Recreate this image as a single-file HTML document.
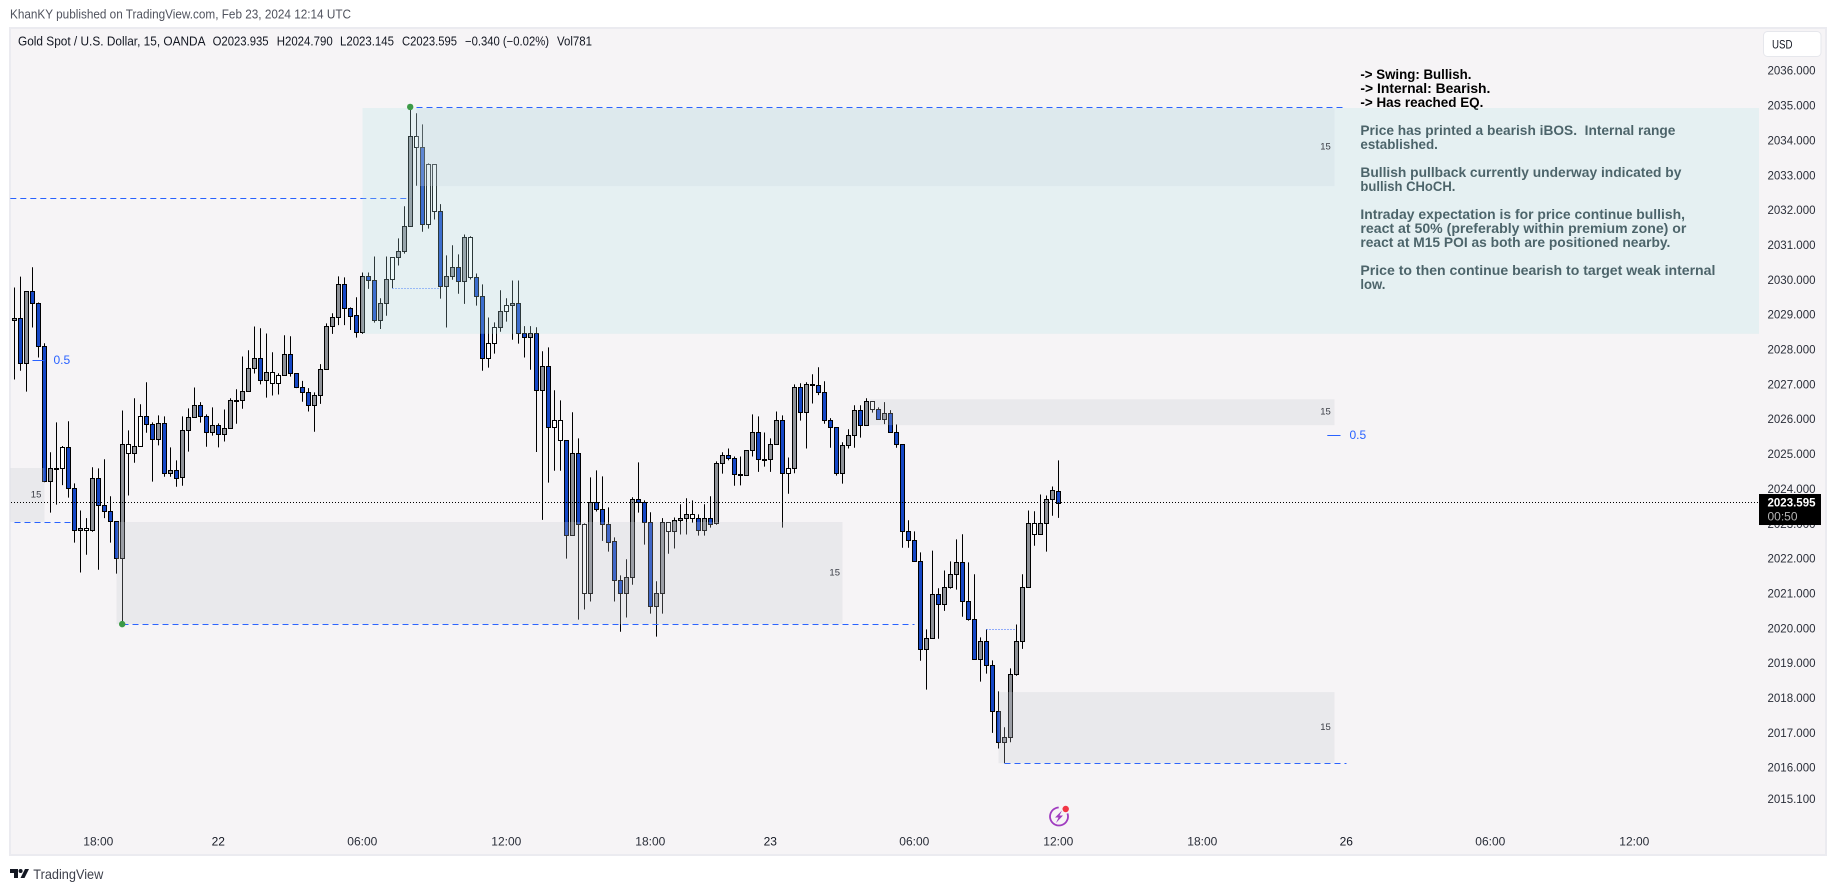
<!DOCTYPE html>
<html lang="en">
<head>
<meta charset="utf-8">
<title>Gold Spot / U.S. Dollar 15m chart</title>
<style>
html,body{margin:0;padding:0;background:#fff;width:1835px;height:891px;overflow:hidden}
svg{display:block}
text{font-family:"Liberation Sans",sans-serif;dominant-baseline:central;white-space:pre}
.note{font-size:14px;font-weight:700;fill:#000}
.note.soft{fill:#2a3a40}
.axis{font-size:12px;fill:#2a2e39}
.legend{font-size:12.5px;fill:#131722}
.zn{font-size:9.5px;fill:#3a3d45}
</style>
</head>
<body>
<svg id="chart" xmlns="http://www.w3.org/2000/svg" width="1835" height="891" viewBox="0 0 1835 891">
  <rect x="0" y="0" width="1835" height="891" fill="#ffffff"/>
  <text x="10" y="14.7" font-size="12.5" fill="#50535e" textLength="341" lengthAdjust="spacingAndGlyphs">KhanKY published on TradingView.com, Feb 23, 2024 12:14 UTC</text>
  <rect x="10" y="28" width="1816" height="827" fill="#f6f4f6" stroke="#ebebf0" stroke-width="2"/>

  <g>
    <text class="note" x="1360.4" y="74" textLength="111" lengthAdjust="spacingAndGlyphs">-&gt; Swing: Bullish.</text>
    <text class="note" x="1360.4" y="88" textLength="130" lengthAdjust="spacingAndGlyphs">-&gt; Internal: Bearish.</text>
    <text class="note" x="1360.4" y="102" textLength="123" lengthAdjust="spacingAndGlyphs">-&gt; Has reached EQ.</text>
    <text class="note soft" x="1360.4" y="130" textLength="315" lengthAdjust="spacingAndGlyphs">Price has printed a bearish iBOS.  Internal range</text>
    <text class="note soft" x="1360.4" y="144" textLength="77.5" lengthAdjust="spacingAndGlyphs">established.</text>
    <text class="note soft" x="1360.4" y="172" textLength="321" lengthAdjust="spacingAndGlyphs">Bullish pullback currently underway indicated by</text>
    <text class="note soft" x="1360.4" y="186" textLength="95" lengthAdjust="spacingAndGlyphs">bullish CHoCH.</text>
    <text class="note soft" x="1360.4" y="214" textLength="324.6" lengthAdjust="spacingAndGlyphs">Intraday expectation is for price continue bullish,</text>
    <text class="note soft" x="1360.4" y="228" textLength="326" lengthAdjust="spacingAndGlyphs">react at 50% (preferably within premium zone) or</text>
    <text class="note soft" x="1360.4" y="242" textLength="310" lengthAdjust="spacingAndGlyphs">react at M15 POI as both are positioned nearby.</text>
    <text class="note soft" x="1360.4" y="270" textLength="355" lengthAdjust="spacingAndGlyphs">Price to then continue bearish to target weak internal</text>
    <text class="note soft" x="1360.4" y="284" textLength="25" lengthAdjust="spacingAndGlyphs">low.</text>
  </g>

  <g id="candles"></g>
  <g id="levels"></g>
  <g id="zones"></g>
  <g id="priceline"></g>
  <g id="markers"></g>
  <g id="yaxis"></g>
  <g id="xaxis"></g>

  <g>
    <text class="legend" x="18" y="41.7" textLength="187.5" lengthAdjust="spacingAndGlyphs">Gold Spot / U.S. Dollar, 15, OANDA</text>
    <text class="legend" x="212.6" y="41.7" textLength="56" lengthAdjust="spacingAndGlyphs">O2023.935</text>
    <text class="legend" x="276.7" y="41.7" textLength="56" lengthAdjust="spacingAndGlyphs">H2024.790</text>
    <text class="legend" x="340" y="41.7" textLength="54" lengthAdjust="spacingAndGlyphs">L2023.145</text>
    <text class="legend" x="402" y="41.7" textLength="55" lengthAdjust="spacingAndGlyphs">C2023.595</text>
    <text class="legend" x="465" y="41.7" textLength="84" lengthAdjust="spacingAndGlyphs">−0.340 (−0.02%)</text>
    <text class="legend" x="557" y="41.7" textLength="35" lengthAdjust="spacingAndGlyphs">Vol781</text>
  </g>

  <g>
    <rect x="1763.5" y="31.5" width="57.5" height="25" rx="4" fill="#ffffff" stroke="#e6e7ec" stroke-width="1"/>
    <text x="1772" y="44.5" font-size="12" fill="#131722" textLength="20.5" lengthAdjust="spacingAndGlyphs">USD</text>
  </g>

  <g>
    <circle cx="1059" cy="816.5" r="9" fill="none" stroke="#a03cc0" stroke-width="1.8" stroke-dasharray="45 12" transform="rotate(-20 1059 816.5)"/>
    <polygon points="1062,810.5 1055,817.5 1058.5,817.5 1056,823 1063,815.5 1059.5,815.5" fill="#a03cc0"/>
    <circle cx="1065.7" cy="809" r="3.2" fill="#f23645"/>
  </g>

  <g>
    <polygon points="10,869 18,869 18,878 14,878 14,873 10,873" fill="#131722"/>
    <circle cx="20.6" cy="871" r="2" fill="#131722"/>
    <polygon points="25,869 29,869 24.5,878 20.5,878" fill="#131722"/>
    <text x="33.3" y="874" font-size="14" fill="#3c3f4a" textLength="70" lengthAdjust="spacingAndGlyphs">TradingView</text>
  </g>
</svg>
<script>
const highs = [
2029.78,2030.09,2029.67,2030.36,2029.35,2028.18,2025.05,2025.91,2025.23,2025.94,
2024.16,2023.38,2023.16,2024.62,2024.59,2024.85,2023.79,2023.07,2026.25,2025.68,
2026.60,2026.43,2027.06,2025.91,2026.11,2026.08,2025.19,2024.82,2026.08,2026.31,
2026.91,2026.49,2026.14,2026.34,2025.88,2026.28,2026.60,2026.86,2027.80,2027.98,
2028.66,2028.61,2028.46,2027.92,2027.32,2028.41,2028.38,2027.32,2027.10,2026.89,
2026.77,2027.58,2028.75,2029.04,2030.10,2030.07,2029.21,2029.50,2030.21,2030.21,
2030.67,2029.47,2030.67,2030.65,2031.19,2032.11,2034.95,2034.78,2034.46,2033.34,
2033.31,2032.17,2030.70,2030.99,2030.73,2031.30,2031.25,2030.18,2029.87,2028.92,
2028.78,2029.70,2029.47,2029.98,2029.98,2028.67,2028.67,2028.64,2027.95,2028.06,
2026.83,2026.54,2025.39,2026.20,2025.45,2023.01,2024.33,2024.53,2024.36,2023.47,
2022.61,2021.52,2021.98,2023.76,2024.76,2023.67,2023.33,2021.35,2023.16,2023.04,
2023.18,2023.56,2023.73,2023.67,2023.27,2023.56,2023.79,2024.79,2025.05,2025.16,
2024.93,2024.93,2025.11,2026.14,2026.08,2025.62,2025.45,2026.22,2026.11,2024.90,
2027.00,2027.03,2027.06,2027.29,2027.49,2027.09,2026.03,2025.77,2025.34,2025.71,
2026.40,2026.40,2026.60,2026.52,2026.34,2026.49,2026.26,2025.85,2025.28,2023.10,
2022.78,2022.18,2019.97,2022.23,2021.15,2021.66,2021.92,2022.55,2022.70,2021.89,
2021.55,2019.74,2019.97,2019.08,2018.19,2017.16,2018.85,2020.11,2021.55,2023.38,
2023.36,2023.84,2023.81,2024.07,2024.82];
const lows = [
2027.14,2027.39,2026.79,2028.63,2027.77,2024.19,2023.32,2023.55,2024.11,2023.75,
2022.46,2021.60,2022.11,2022.77,2021.68,2023.16,2022.46,2021.57,2020.12,2023.81,
2024.75,2025.22,2025.61,2024.21,2025.25,2024.35,2024.35,2024.06,2024.09,2025.07,
2026.05,2025.90,2025.21,2025.53,2025.19,2025.36,2025.74,2025.87,2026.30,2026.80,
2027.31,2027.00,2026.62,2026.68,2026.71,2027.26,2027.22,2026.89,2026.50,2026.22,
2025.64,2026.44,2027.43,2028.45,2028.70,2028.70,2028.56,2028.34,2028.45,2029.74,
2028.77,2028.59,2028.97,2029.76,2030.41,2030.75,2031.53,2032.70,2031.38,2031.47,
2031.73,2029.46,2028.63,2030.00,2029.60,2029.31,2030.01,2029.26,2027.39,2027.48,
2027.88,2028.51,2028.80,2028.28,2028.17,2027.77,2027.42,2025.06,2023.11,2024.18,
2024.52,2024.52,2022.00,2022.67,2020.25,2020.54,2020.77,2023.35,2022.51,2022.20,
2020.77,2019.90,2020.31,2021.25,2023.32,2022.40,2020.42,2019.76,2020.42,2022.14,
2022.29,2022.69,2022.69,2023.03,2022.66,2022.66,2022.89,2022.97,2024.44,2024.82,
2024.09,2024.10,2024.38,2024.93,2024.49,2024.64,2024.49,2025.28,2022.89,2023.86,
2024.45,2025.96,2025.16,2026.45,2026.69,2025.87,2025.18,2024.38,2024.15,2025.16,
2025.18,2025.47,2025.82,2026.19,2026.00,2025.86,2025.62,2025.18,2022.31,2022.31,
2021.91,2019.07,2018.24,2019.71,2019.70,2020.50,2021.14,2021.11,2020.33,2020.22,
2019.11,2018.47,2018.70,2017.00,2016.55,2016.13,2016.73,2018.64,2019.41,2021.18,
2022.37,2022.70,2022.20,2023.23,2023.17];
const opens = [
2028.84,2028.90,2027.60,2029.67,2029.32,2028.09,2024.22,2024.58,2024.59,2025.19,
2024.02,2022.81,2022.81,2022.81,2024.31,2023.53,2023.36,2023.07,2022.01,2025.02,
2025.02,2025.22,2026.08,2025.85,2025.42,2025.88,2024.45,2024.53,2024.33,2025.68,
2026.05,2026.40,2026.08,2025.62,2025.82,2025.57,2025.74,2026.53,2026.54,2026.80,
2027.46,2027.75,2027.12,2027.03,2027.03,2027.26,2027.86,2027.32,2026.92,2026.77,
2026.40,2026.69,2027.43,2028.66,2028.92,2029.87,2029.18,2028.98,2028.49,2030.10,
2029.98,2028.84,2029.32,2030.01,2030.65,2030.82,2031.53,2033.80,2033.80,2031.59,
2031.96,2031.96,2029.81,2030.10,2030.36,2029.96,2030.07,2030.07,2029.53,2027.77,
2028.18,2028.64,2029.10,2029.27,2029.32,2028.47,2028.35,2028.47,2026.83,2027.52,
2025.77,2025.39,2025.39,2022.67,2025.02,2021.00,2021.00,2023.61,2023.42,2022.98,
2022.50,2021.38,2021.02,2021.46,2023.70,2023.61,2023.04,2020.65,2021.00,2022.78,
2022.78,2023.10,2023.16,2023.16,2023.16,2022.81,2023.16,2023.01,2024.73,2024.96,
2024.88,2024.39,2024.39,2025.11,2025.62,2024.84,2024.85,2025.28,2025.97,2024.47,
2024.59,2026.91,2026.22,2027.00,2026.97,2026.77,2025.97,2025.77,2024.45,2025.25,
2025.54,2026.26,2025.82,2026.28,2026.28,2026.00,2026.17,2025.62,2025.28,2022.78,
2022.52,2021.92,2019.40,2019.71,2020.98,2020.69,2021.18,2021.55,2021.89,2020.77,
2020.26,2019.11,2019.63,2018.94,2017.62,2016.73,2016.87,2018.68,2019.63,2021.18,
2022.70,2022.70,2023.01,2023.70,2023.94];
const closes = [
2028.90,2027.60,2029.67,2029.32,2028.09,2024.22,2024.59,2024.59,2025.19,2024.02,
2022.81,2022.87,2022.87,2024.31,2023.53,2023.36,2023.07,2022.01,2025.28,2025.28,
2025.22,2026.08,2025.85,2025.42,2025.88,2024.45,2024.53,2024.32,2025.68,2026.05,
2026.40,2026.08,2025.62,2025.82,2025.57,2025.74,2026.54,2026.54,2026.80,2027.46,
2027.75,2027.12,2027.35,2027.35,2027.26,2027.86,2027.32,2026.92,2026.77,2026.40,
2026.69,2027.43,2028.67,2028.92,2029.87,2029.18,2028.97,2028.49,2030.10,2029.98,
2028.84,2029.32,2030.01,2030.65,2030.82,2031.53,2034.12,2034.12,2031.59,2033.31,
2033.31,2029.81,2030.10,2030.36,2029.96,2031.22,2031.22,2029.53,2027.77,2028.18,
2028.64,2029.10,2029.27,2029.32,2028.47,2028.35,2028.47,2026.83,2027.52,2025.77,
2025.97,2025.97,2022.67,2025.02,2022.98,2022.98,2023.61,2023.41,2022.98,2022.49,
2021.38,2021.02,2021.46,2023.70,2023.61,2023.04,2020.65,2021.00,2023.04,2023.04,
2023.10,2023.16,2023.27,2023.27,2022.81,2023.16,2023.00,2024.73,2024.96,2024.88,
2024.42,2024.42,2025.11,2025.62,2024.85,2024.85,2025.28,2025.97,2024.47,2024.59,
2026.92,2026.22,2027.00,2026.97,2026.77,2025.97,2025.77,2024.45,2025.25,2025.54,
2026.26,2025.82,2026.52,2026.52,2026.00,2026.17,2025.62,2025.28,2022.78,2022.52,
2021.92,2019.40,2019.71,2020.98,2020.69,2021.18,2021.55,2021.89,2020.77,2020.26,
2019.11,2019.63,2018.94,2017.62,2016.73,2016.87,2018.68,2019.63,2021.18,2023.01,
2023.01,2023.01,2023.70,2023.96,2023.60];
const insideBars = [8,12,19,21,43,44,63,67,69,70,76,79,80,82,90,91,95,109,113,129,143,170];

const priceTickValues = [2036,2035,2034,2033,2032,2031,2030,2029,2028,2027,2026,2025,2024,2023,2022,2021,2020,2019,2018,2017,2016,2015.1];
const timeTickBars = [14,34,58,82,106,126,150,174,198,222,246,270];
const timeTickLabels = ["18:00","22","06:00","12:00","18:00","23","06:00","12:00","18:00","26","06:00","12:00"];
const lastPrice = 2023.595;
const countdownText = "00:50";

const zoneStartBars = [58,67,17,-0.7,142.5,164];
const zoneEndBars = [290.75,220,138,5,220,220];
const zoneTopPrices = [2034.93,2034.93,2023.05,2024.60,2026.57,2018.17];
const zoneBottomPrices = [2028.45,2032.69,2020.12,2023.05,2025.83,2016.13];
const zoneLabelBars = [null,218.5,136.7,3.6,218.5,218.5];

const dashedStartBars = [67,-0.7,0,18,165];
const dashedEndBars = [222,66,10,150,222];
const dashedPrices = [2034.95,2032.34,2023.04,2020.12,2016.13];
const dottedStartBars = [63,162];
const dottedEndBars = [71,167];
const dottedPrices = [2029.76,2019.97];
const midStartBars = [3,218.8];
const midEndBars = [5,221];
const midPrices = [2027.70,2025.55];
const swingBars = [66,18];
const swingPrices = [2034.96,2020.12];

function xAt(i){ return 14.5 + 6 * i; }
function yAt(p){ return 70.7 + (2036 - p) * 34.85; }
function snap(v){ return Math.round(v) + 0.5; }
const NS = "http://www.w3.org/2000/svg";
function mk(tag, parent){ const e = document.createElementNS(NS, tag); parent.appendChild(e); return e; }

const gCandles = document.getElementById("candles");
for (let i = 0; i < opens.length; i++) {
  const x = xAt(i);
  const g = mk("g", gCandles);
  
  
  const wick = mk("line", g);
  
  
  wick.setAttribute("x1", x); wick.setAttribute("x2", x);
  wick.setAttribute("y1", yAt(highs[i])); wick.setAttribute("y2", yAt(lows[i]));
  wick.setAttribute("stroke", "#000"); wick.setAttribute("stroke-width", 1);
  const top = snap(yAt(Math.max(opens[i], closes[i])));
  const bot = snap(yAt(Math.min(opens[i], closes[i])));
  const body = mk("rect", g);
  
  
  body.setAttribute("x", x - 2); body.setAttribute("width", 4);
  body.setAttribute("y", top); body.setAttribute("height", Math.max(bot - top, 1));
  let fill = closes[i] < opens[i] ? "#1547c6" : "#8e9197";
  if (insideBars.indexOf(i) >= 0) fill = "#ffffff";
  body.setAttribute("fill", fill);
  body.setAttribute("stroke", "#000"); body.setAttribute("stroke-width", 1);
}

const gLevels = document.getElementById("levels");
for (let i = 0; i < dashedPrices.length; i++) {
  const l = mk("line", gLevels);
  
  
  l.setAttribute("x1", xAt(dashedStartBars[i])); l.setAttribute("x2", xAt(dashedEndBars[i]));
  l.setAttribute("y1", snap(yAt(dashedPrices[i]))); l.setAttribute("y2", snap(yAt(dashedPrices[i])));
  l.setAttribute("stroke", "#2962ff"); l.setAttribute("stroke-dasharray", "6 4");
}
for (let i = 0; i < dottedPrices.length; i++) {
  const l = mk("line", gLevels);
  
  
  l.setAttribute("x1", xAt(dottedStartBars[i])); l.setAttribute("x2", xAt(dottedEndBars[i]));
  l.setAttribute("y1", snap(yAt(dottedPrices[i]))); l.setAttribute("y2", snap(yAt(dottedPrices[i])));
  l.setAttribute("stroke", "#2962ff"); l.setAttribute("stroke-dasharray", "1 2");
}
for (let i = 0; i < midPrices.length; i++) {
  const l = mk("line", gLevels);
  
  
  l.setAttribute("x1", xAt(midStartBars[i])); l.setAttribute("x2", xAt(midEndBars[i]));
  l.setAttribute("y1", snap(yAt(midPrices[i]))); l.setAttribute("y2", snap(yAt(midPrices[i])));
  l.setAttribute("stroke", "#2962ff");
  const t = mk("text", gLevels);
  
  
  t.setAttribute("x", xAt(midEndBars[i]) + 9); t.setAttribute("y", yAt(midPrices[i]));
  t.setAttribute("font-size", 12); t.setAttribute("fill", "#2962ff");
  t.textContent = "0.5";
}

const gZones = document.getElementById("zones");
const zoneFills = ["rgba(178,228,230,.25)","rgba(200,210,225,.25)","rgba(194,200,206,.25)","rgba(194,200,206,.25)","rgba(194,200,206,.25)","rgba(194,200,206,.25)"];
for (let i = 0; i < zoneStartBars.length; i++) {
  const r = mk("rect", gZones);
  
  
  const x0 = xAt(zoneStartBars[i]), x1 = xAt(zoneEndBars[i]);
  const y0 = yAt(zoneTopPrices[i]), y1 = yAt(zoneBottomPrices[i]);
  r.setAttribute("x", x0); r.setAttribute("y", y0);
  r.setAttribute("width", x1 - x0); r.setAttribute("height", y1 - y0);
  r.setAttribute("fill", zoneFills[i]);
  if (zoneLabelBars[i] !== null) {
    const t = mk("text", gZones);
    
    
    t.setAttribute("class", "zn");
    t.setAttribute("x", xAt(zoneLabelBars[i])); t.setAttribute("y", (y0 + y1) / 2);
    t.setAttribute("text-anchor", "middle");
    t.textContent = "15";
  }
}

const gLine = document.getElementById("priceline");
const pl = mk("line", gLine);


pl.setAttribute("x1", 11); pl.setAttribute("x2", 1759);
pl.setAttribute("y1", snap(yAt(lastPrice) - 0.8)); pl.setAttribute("y2", snap(yAt(lastPrice) - 0.8));
pl.setAttribute("stroke", "#000"); pl.setAttribute("stroke-dasharray", "1 2");

const gMarkers = document.getElementById("markers");
for (let i = 0; i < swingBars.length; i++) {
  const c = mk("circle", gMarkers);
  
  
  c.setAttribute("cx", xAt(swingBars[i]) - 0.3); c.setAttribute("cy", yAt(swingPrices[i]));
  c.setAttribute("r", 3.2); c.setAttribute("fill", "#3c9a47");
}

const gY = document.getElementById("yaxis");
for (let i = 0; i < priceTickValues.length; i++) {
  const t = mk("text", gY);
  
  
  t.setAttribute("class", "axis");
  t.setAttribute("x", 1767.5); t.setAttribute("y", yAt(priceTickValues[i]));
  t.setAttribute("textLength", 48); t.setAttribute("lengthAdjust", "spacingAndGlyphs");
  t.textContent = priceTickValues[i].toFixed(3);
}
const box = mk("rect", gY);


box.setAttribute("x", 1759); box.setAttribute("y", yAt(lastPrice) - 9);
box.setAttribute("width", 62); box.setAttribute("height", 31); box.setAttribute("fill", "#000");
const lp = mk("text", gY);


lp.setAttribute("x", 1767.5); lp.setAttribute("y", yAt(lastPrice) - 0.5);
lp.setAttribute("font-size", 12); lp.setAttribute("font-weight", 700); lp.setAttribute("fill", "#fff");
lp.setAttribute("textLength", 48); lp.setAttribute("lengthAdjust", "spacingAndGlyphs");
lp.textContent = lastPrice.toFixed(3);
const cd = mk("text", gY);


cd.setAttribute("x", 1767.5); cd.setAttribute("y", yAt(lastPrice) + 13.5);
cd.setAttribute("font-size", 12); cd.setAttribute("fill", "#b4b4b4");
cd.setAttribute("textLength", 30); cd.setAttribute("lengthAdjust", "spacingAndGlyphs");
cd.textContent = countdownText;

const gX = document.getElementById("xaxis");
for (let i = 0; i < timeTickBars.length; i++) {
  const t = mk("text", gX);
  
  
  const label = timeTickLabels[i];
  t.setAttribute("class", "axis");
  t.setAttribute("x", xAt(timeTickBars[i]) - 0.2); t.setAttribute("y", 841.7);
  t.setAttribute("text-anchor", "middle");
  if (label.length === 2) { t.setAttribute("fill", "#131722"); t.style.fill = "#131722"; }
  t.textContent = label;
}
</script>
</body>
</html>
